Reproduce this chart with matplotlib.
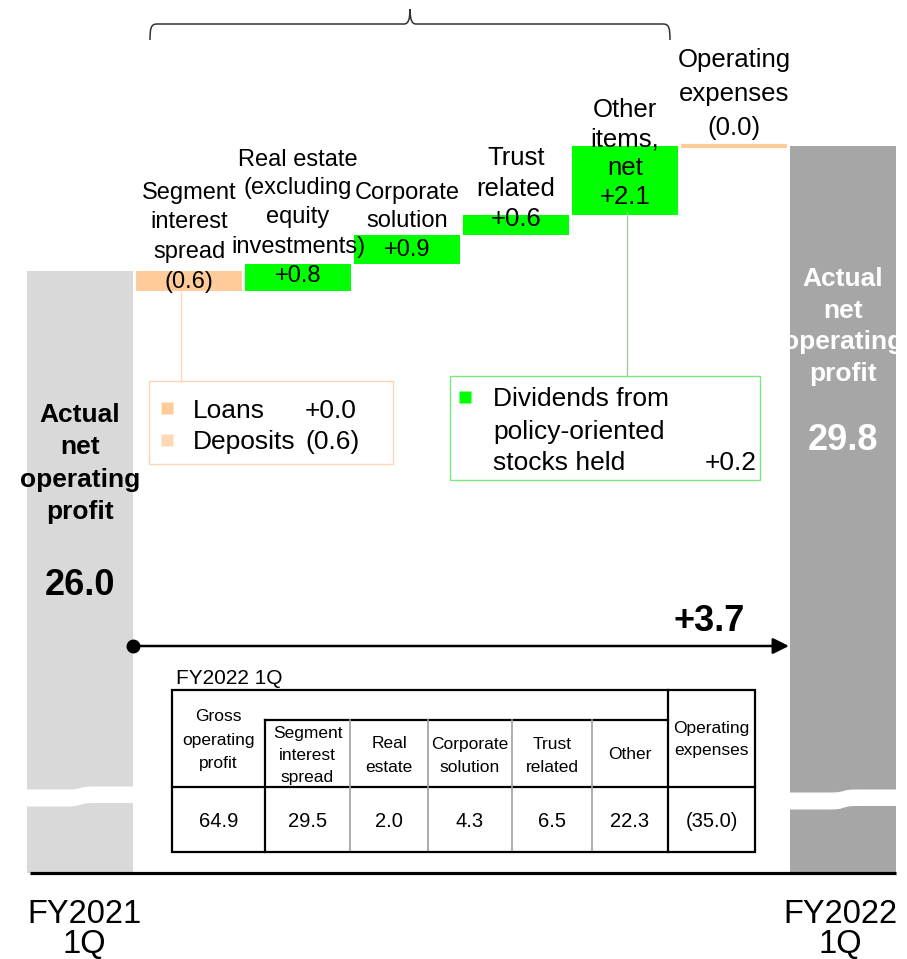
import numpy as np
import matplotlib.pyplot as plt
from matplotlib.patches import Rectangle, PathPatch
from matplotlib.path import Path

plt.rcParams['font.family'] = ['Liberation Sans', 'DejaVu Sans']

# ---- data ----
start_value = 26.0
end_value = 29.8
start_label = ["FY2021", "1Q"]
end_label = ["FY2022", "1Q"]
total_label = ["Actual", "net", "operating", "profit"]
step_names = [["Segment", "interest", "spread"],
              ["Real estate", "(excluding", "equity", "investments)"],
              ["Corporate", "solution"],
              ["Trust", "related"],
              ["Other", "items,", "net"],
              ["Operating", "expenses"]]
step_values = [-0.6, 0.8, 0.9, 0.6, 2.1, -0.0]
step_texts = ["(0.6)", "+0.8", "+0.9", "+0.6", "+2.1", "(0.0)"]
change_text = "+3.7"

spread_items = ["Loans", "Deposits"]
spread_values = ["+0.0", "(0.6)"]
other_items = ["Dividends from", "policy-oriented", "stocks held"]
other_value = "+0.2"

table_title = "FY2022 1Q"
table_heads = [["Gross", "operating", "profit"], ["Segment", "interest", "spread"],
               ["Real", "estate"], ["Corporate", "solution"], ["Trust", "related"],
               ["Other"], ["Operating", "expenses"]]
table_values = ["64.9", "29.5", "2.0", "4.3", "6.5", "22.3", "(35.0)"]

# ---- colours ----
c_start = '#D9D9D9'
c_end = '#A6A6A6'
c_up = '#00FF00'
c_down = '#FFCC99'
c_down2 = '#FFD9B3'

W, H = 907, 959
X0, XS = 80, 109      # pixel of category 0, pixels per category
Y0, YS = 271, 33      # pixel of start value, pixels per unit


def fx(px):
    return (px - X0) / XS


def fy(py):
    return start_value + (Y0 - py) / YS


def txt(x, y, s, size, **kw):
    # y is the visual centre of the line in pixels
    em = size * 100 / 72
    return ax.text(fx(x), fy(y + 0.36 * em), s, fontsize=size, va='baseline', **kw)


fig = plt.figure(figsize=(W / 100, H / 100), dpi=100)
ax = fig.add_axes([0, 0, 1, 1])
ax.set_xlim(fx(0), fx(W))
ax.set_ylim(fy(H), fy(0))
ax.axis('off')

floor = fy(873)
bw = 106 / XS

# ---- bars ----
ax.bar(0, start_value - floor, bottom=floor, width=bw, color=c_start, zorder=1)
ax.bar(7, end_value - floor, bottom=floor, width=bw, color=c_end, zorder=1)

cum = start_value + np.cumsum(step_values)
bottoms = np.concatenate([[start_value], cum[:-1]])
for i, (b, v) in enumerate(zip(bottoms, step_values)):
    if abs(v) < 1e-9:
        ax.hlines(b, i + 1 - bw / 2, i + 1 + bw / 2, color=c_down, lw=3, zorder=2)
    else:
        ax.bar(i + 1, abs(v), bottom=min(b, b + v), width=bw,
               color=c_up if v > 0 else c_down, zorder=2)

# axis break waves
for cx, top, bot in [(0, 789, 806), (7, 792, 809)]:
    xs = np.linspace(cx - bw / 2 - 0.02, cx + bw / 2 + 0.02, 60)
    s = 1 / (1 + np.exp(-(xs - cx) * 40))
    ax.fill_between(xs, fy(top - 3 * s), fy(bot - 3.5 * s), color='white', zorder=3, lw=0)

ax.plot([fx(30), fx(896)], [floor, floor], color='black', lw=2.3, zorder=4, solid_capstyle='butt')

# ---- labels above steps ----
label_pos = [(190, 29.7, 17), (157, 29, 17), (190, 28.5, 17),
             (156, 30.5, 18.5), (108, 29, 18.5), (58, 34, 18.5)]
for i, (name, t) in enumerate(zip(step_names, step_texts)):
    y, p, s = label_pos[i]
    for k, r in enumerate(name + [t]):
        txt(X0 + XS * (i + 1), y + k * p, r, s, ha='center', zorder=5)

# start / end bar texts
clip = Rectangle((7 - bw / 2, floor), bw, end_value - floor, transform=ax.transData)
for k, r in enumerate(total_label):
    txt(X0, 413 + k * 32, r, 19, ha='center', fontweight='bold', zorder=5)
    t = txt(X0 + XS * 7, 276 + k * 32, r, 19, ha='center', color='white',
            fontweight='bold', zorder=5)
    t.set_clip_path(clip)
txt(X0, 582, f"{start_value:.1f}", 26, ha='center', fontweight='bold', zorder=5)
txt(X0 + XS * 7, 437, f"{end_value:.1f}", 26, ha='center', fontweight='bold', color='white', zorder=5)

# x labels
for k, r in enumerate(start_label):
    txt(84, 911 + k * 30, r, 23.5, ha='center')
for k, r in enumerate(end_label):
    txt(840, 911 + k * 30, r, 23.5, ha='center')

# ---- brace ----
pts = [(150, 40), (150, 28), (151, 24), (157, 24), (404, 24), (408, 24), (410, 20), (410, 9),
       (410, 20), (412, 24), (416, 24), (663, 24), (669, 24), (670, 28), (670, 40)]
codes = [Path.MOVETO, Path.CURVE4, Path.CURVE4, Path.CURVE4, Path.LINETO,
         Path.CURVE4, Path.CURVE4, Path.CURVE4, Path.CURVE4, Path.CURVE4, Path.CURVE4,
         Path.LINETO, Path.CURVE4, Path.CURVE4, Path.CURVE4]
ax.add_patch(PathPatch(Path([(fx(a), fy(b)) for a, b in pts], codes),
                       fill=False, ec='#333333', lw=1.1))

# ---- detail boxes ----
ax.plot([fx(181), fx(181)], [fy(292), fy(381)], color='#FCD5B5', lw=1)
ax.add_patch(Rectangle((fx(149), fy(464)), fx(393) - fx(149), fy(381) - fy(464),
                       fill=False, ec='#FCD5B5', lw=1))
for k, (n, v, c) in enumerate(zip(spread_items, spread_values, [c_down, c_down2])):
    y = 408 + k * 32
    ax.plot(fx(167), fy(y), 's', ms=8.5, color=c, mec='none')
    txt(193, y, n, 19, ha='left')
    txt(305, y, v, 19, ha='left')

ax.plot([fx(627), fx(627)], [fy(212), fy(376)], color='#A8C8A8', lw=1)
ax.add_patch(Rectangle((fx(450), fy(480)), fx(760) - fx(450), fy(376) - fy(480),
                       fill=False, ec='#7CE87C', lw=1))
ax.plot(fx(465), fy(397), 's', ms=8.5, color=c_up, mec='none')
for k, r in enumerate(other_items):
    txt(493, 397 + k * 32, r, 19, ha='left')
txt(757, 461, other_value, 19, ha='right')

# ---- total change arrow ----
ya = fy(646)
ax.annotate('', xy=(7 - bw / 2 - 0.01, ya), xytext=(bw / 2, ya),
            arrowprops=dict(arrowstyle='-|>', lw=1.8, color='black', mutation_scale=24,
                            shrinkA=0, shrinkB=0), zorder=6)
ax.plot(bw / 2, ya, 'o', ms=9, color='black', zorder=6)
txt(709, 618, change_text, 26, ha='center', fontweight='bold')

# ---- table ----
edges = [172, 265, 350, 428, 512, 592, 668, 755]
t_top, t_sub, t_mid, t_bot = 690, 720, 787, 852
ax.add_patch(Rectangle((fx(172), fy(t_bot)), fx(755) - fx(172), fy(t_top) - fy(t_bot),
                       fill=False, ec='black', lw=1.6, zorder=5))
ax.plot([fx(265), fx(668)], [fy(t_sub), fy(t_sub)], color='black', lw=1.6)
ax.plot([fx(172), fx(755)], [fy(t_mid), fy(t_mid)], color='black', lw=1.6)
ax.plot([fx(265), fx(265)], [fy(t_sub), fy(t_bot)], color='black', lw=1.6)
ax.plot([fx(668), fx(668)], [fy(t_top), fy(t_bot)], color='black', lw=1.6)
for e in edges[2:6]:
    ax.plot([fx(e), fx(e)], [fy(t_sub), fy(t_bot)], color='#A0A0A0', lw=1.2)

txt(176, 676, table_title, 15, ha='left')
head_pos = [(715, 23.5), (732, 22), (742, 24), (743, 23), (743, 23), (753, 0), (727, 22)]
for j, (h, v) in enumerate(zip(table_heads, table_values)):
    cx = (edges[j] + edges[j + 1]) / 2
    y, p = head_pos[j]
    for k, r in enumerate(h):
        txt(cx, y + k * p, r, 12.5, ha='center')
    txt(cx, 820, v, 14.5, ha='center')

fig.savefig('out.png', dpi=100)
